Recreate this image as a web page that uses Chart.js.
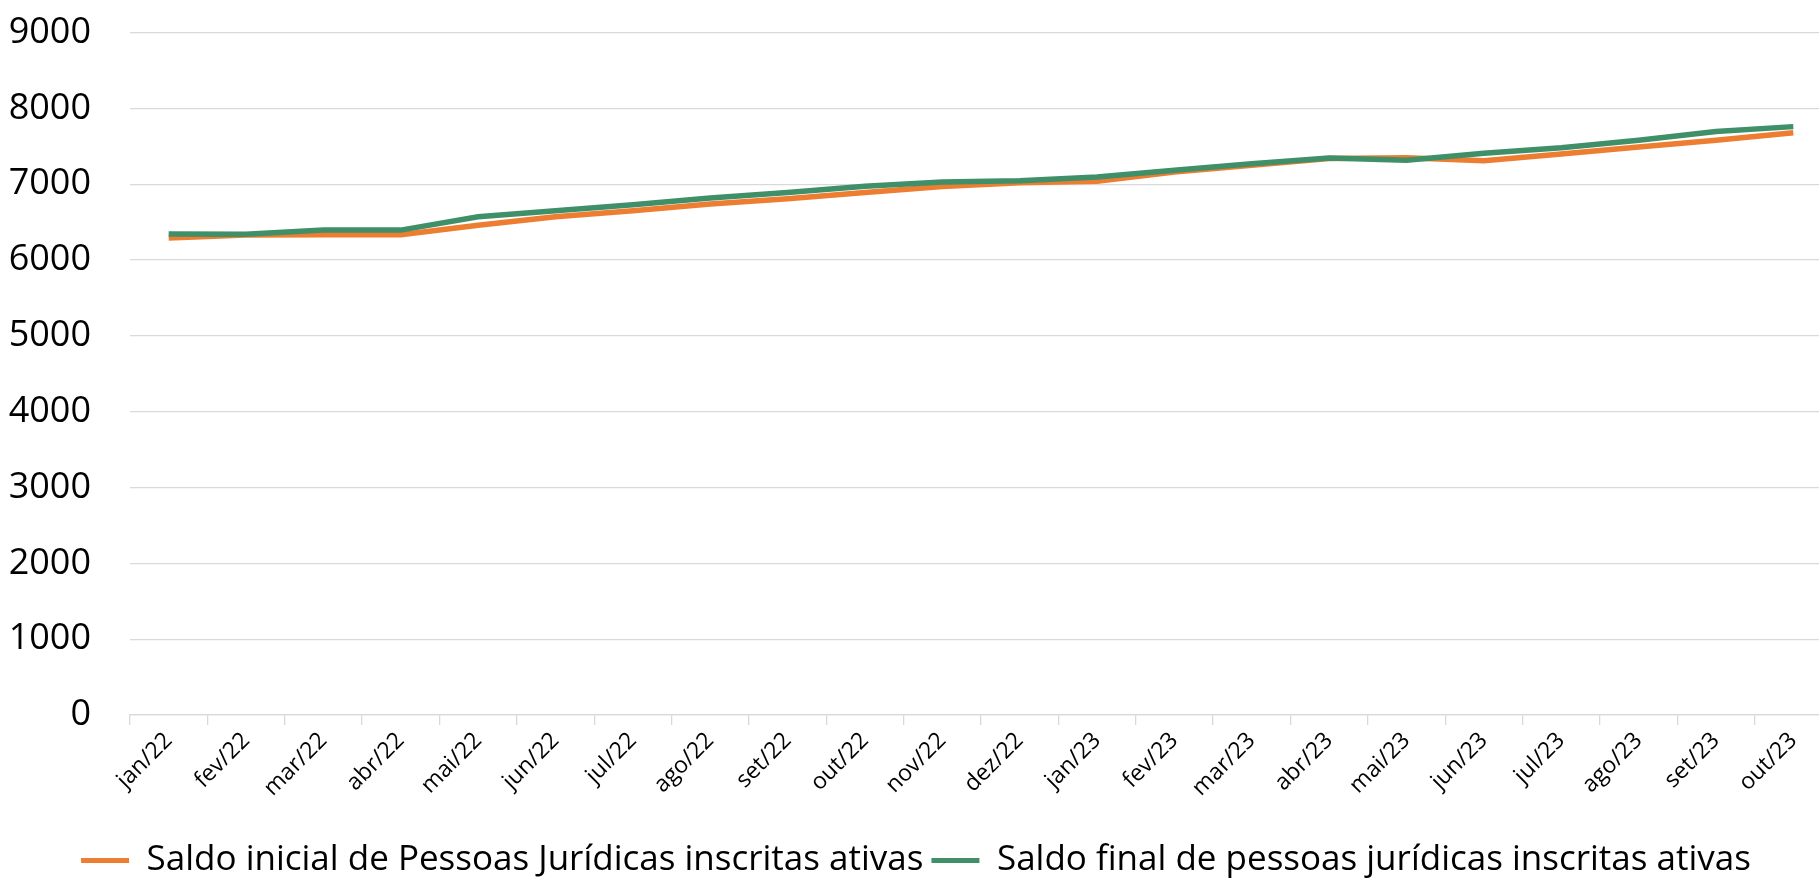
<!DOCTYPE html>
<html>
<head>
<meta charset="utf-8">
<script src="https://cdn.jsdelivr.net/npm/chart.js@4/dist/chart.umd.min.js"></script>
<style>
  html, body { margin: 0; padding: 0; background: #fff; overflow: hidden; }
  #box { position: relative; top: -28px; width: 1832px; height: 916px; }
</style>
</head>
<body>
<div id="box"><canvas id="grafico"></canvas></div>
<script>
const meses = ["jan/22","fev/22","mar/22","abr/22","mai/22","jun/22","jul/22","ago/22","set/22","out/22","nov/22","dez/22",
               "jan/23","fev/23","mar/23","abr/23","mai/23","jun/23","jul/23","ago/23","set/23","out/23"];
const saldoInicial = [6290, 6330, 6335, 6335, 6460, 6570, 6650, 6740, 6810, 6890, 6970, 7020,
                      7040, 7160, 7250, 7340, 7350, 7310, 7400, 7490, 7580, 7680];
const saldoFinal = [6345, 6340, 6395, 6395, 6570, 6650, 6730, 6820, 6890, 6975, 7030, 7045,
                    7095, 7185, 7270, 7345, 7315, 7410, 7480, 7580, 7695, 7760];
const nomeInicial = "Saldo inicial de Pessoas Jurídicas inscritas ativas";
const nomeFinal = "Saldo final de pessoas jurídicas inscritas ativas";

const laranja = "#ED7D31";
const verde = "#3F8F68";

Chart.defaults.font.family = "'Open Sans', sans-serif";
Chart.defaults.color = "#000";

// y do zero no canvas (pagina 716 + 28 de deslocamento)
const baseY = 744;
const alturaCanvas = 916;

const ctx = document.getElementById("grafico");
new Chart(ctx, {
  type: "line",
  data: {
    labels: meses,
    datasets: [{
      label: nomeInicial,
      data: saldoInicial,
      borderColor: laranja,
      backgroundColor: laranja,
      borderWidth: 5.5,
      pointRadius: 0,
      tension: 0,
      order: 1
    }, {
      label: nomeFinal,
      data: saldoFinal,
      borderColor: verde,
      backgroundColor: verde,
      borderWidth: 5.5,
      pointRadius: 0,
      tension: 0,
      order: 0
    }]
  },
  options: {
    responsive: true,
    maintainAspectRatio: false,
    animation: false,
    layout: { padding: { top: 7, right: 0, bottom: 0, left: 0 } },
    plugins: {
      tooltip: { enabled: false },
      legend: {
        position: "bottom",
        labels: {
          boxWidth: 48,
          boxHeight: 5,
          padding: 8,
          font: { size: 35 },
          sort: (a, b) => a.datasetIndex - b.datasetIndex,
          generateLabels: function(chart) {
            const itens = Chart.defaults.plugins.legend.labels.generateLabels(chart);
            return itens.map(function(it) {
              it.lineWidth = 0;
              it.strokeStyle = "rgba(0,0,0,0)";
              return it;
            });
          }
        }
      }
    },
    scales: {
      x: {
        offset: true,
        afterFit: function(scale) {
          // espaco entre o eixo e a legenda
          scale.height = alturaCanvas - 52 - baseY;
        },
        grid: {
          offset: true,
          drawOnChartArea: false,
          drawTicks: true,
          tickLength: 10,
          color: "#d9d9d9",
          lineWidth: 1.3
        },
        border: { display: true, color: "#d9d9d9", width: 1.3 },
        ticks: {
          autoSkip: false,
          maxRotation: 45,
          minRotation: 45,
          padding: 2,
          font: { size: 23 }
        }
      },
      y: {
        min: 0,
        max: 9000,
        afterFit: function(scale) { scale.width = 130; },
        grid: { color: "#d9d9d9", lineWidth: 1.3, drawTicks: false },
        border: { display: false },
        ticks: {
          stepSize: 1000,
          padding: 39,
          font: { size: 36 },
          callback: function(v) { return String(v); }
        }
      }
    }
  }
});
</script>
</body>
</html>
